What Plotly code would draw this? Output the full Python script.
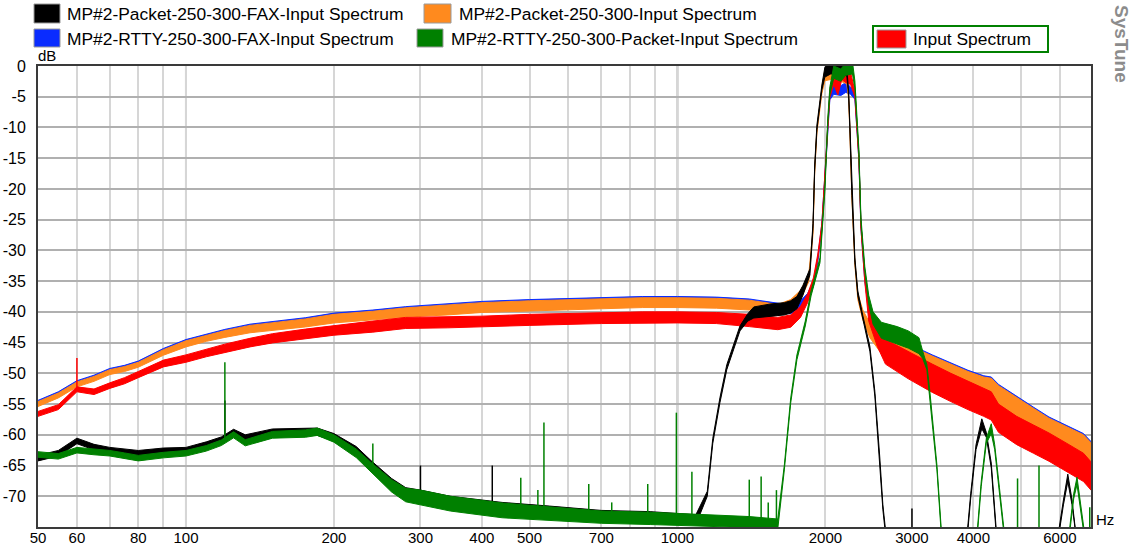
import plotly.graph_objects as go

# ---------------- data ----------------
orange_hz = [50, 55, 60, 65, 70, 75, 80, 90, 100, 110,
             120, 135, 150, 175, 200, 240, 280, 340, 400, 500,
             700, 850, 1000, 1200, 1400, 1600, 1700, 1780, 1850, 1887,
             1902, 1922, 1967, 1995, 2050, 2150, 2211, 2230, 2243, 2264,
             2296, 2328, 2383, 2463, 2600, 2800, 2950, 3300, 3600, 3900,
             4200, 4350, 4500, 4900, 5300, 5700, 6200, 6700, 6940]
orange_db = [-55, -53.6, -51.8, -50.9, -49.8, -49.3, -48.6, -46.6, -45.2, -44.3,
             -43.6, -42.8, -42.4, -41.8, -41.1, -40.6, -40.1, -39.7, -39.3, -39.0,
             -38.7, -38.5, -38.5, -38.6, -38.9, -39.6, -38.8, -37.2, -34.5, -27,
             -17, -10.5, -4, -1.5, -1.2, -1.5, -2, -5, -10.5, -21,
             -32, -37.5, -40.5, -43, -45.2, -46.5, -47.3, -49.2, -50.5, -51.7,
             -52.6, -52.8, -54, -56, -57.7, -59.3, -60.7, -62, -63.3]
orange_spread = [0.4, 0.4, 0.4, 0.4, 0.4, 0.4, 0.4, 0.45, 0.5, 0.5,
                 0.55, 0.6, 0.6, 0.65, 0.7, 0.7, 0.75, 0.8, 0.8, 0.8,
                 0.8, 0.8, 0.8, 0.8, 0.8, 0.8, 0.8, 0.7, 0.6, 0.4,
                 0.4, 0.4, 0.5, 0.9, 1.0, 1.0, 0.9, 0.5, 0.4, 0.4,
                 0.4, 0.5, 0.8, 1.2, 1.6, 1.8, 1.9, 2.0, 2.0, 2.0,
                 2.0, 2.0, 2.0, 2.0, 2.0, 2.0, 2.0, 2.0, 2.0]

blue_hz = [50, 55, 60, 65, 70, 75, 80, 90, 100, 110,
           120, 135, 150, 175, 200, 240, 280, 340, 400, 500,
           700, 850, 1000, 1200, 1400, 1600, 1700, 1780, 1840, 1890,
           1930, 1967, 1995, 2022, 2042, 2080, 2150, 2200, 2250, 2296,
           2340, 2362, 2405, 2460, 2600, 2800, 2950, 3300, 3600, 3900,
           4200, 4350, 4500, 4900, 5300, 5700, 6200, 6700, 6940]
blue_db = [-54.8, -53.4, -51.6, -50.7, -49.6, -49.1, -48.4, -46.4, -45.0, -44.1,
           -43.4, -42.6, -42.2, -41.6, -40.9, -40.4, -39.9, -39.5, -39.1, -38.8,
           -38.5, -38.3, -38.3, -38.4, -38.7, -39.4, -39.6, -38.8, -37.5, -35.5,
           -31.5, -26, -18, -10, -5, -3.8, -4, -3.5, -4, -5,
           -15, -26, -34.5, -40, -44.9, -46.3, -47.1, -49.0, -50.3, -51.5,
           -52.4, -52.6, -53.8, -55.8, -57.5, -59.1, -60.5, -61.8, -63.1]
blue_spread = [0.4, 0.4, 0.4, 0.4, 0.4, 0.4, 0.4, 0.45, 0.5, 0.5,
               0.55, 0.6, 0.6, 0.65, 0.7, 0.7, 0.75, 0.8, 0.8, 0.8,
               0.8, 0.8, 0.8, 0.8, 0.8, 0.8, 0.7, 0.6, 0.5, 0.4,
               0.4, 0.4, 0.4, 0.4, 0.5, 0.8, 0.8, 0.8, 0.6, 0.4,
               0.4, 0.4, 0.5, 0.9, 1.5, 1.8, 1.9, 2.0, 2.0, 2.0,
               2.0, 2.0, 2.0, 2.0, 2.0, 2.0, 2.0, 2.0, 2.0]

red_hz = [50, 55, 60, 65, 70, 75, 80, 90, 100, 110,
          120, 135, 150, 175, 200, 240, 280, 340, 400, 500,
          700, 850, 1000, 1200, 1400, 1600, 1700, 1780, 1840, 1890,
          1930, 1967, 1995, 2022, 2042, 2080, 2120, 2160, 2200, 2250,
          2296, 2340, 2362, 2405, 2450, 2550, 2650, 2950, 3300, 3600,
          3900, 4100, 4200, 4350, 4500, 4900, 5300, 5700, 6200, 6700,
          6940]
red_db = [-56.6, -55.5, -52.6, -53, -52, -51.2, -50.2, -48.4, -47.6, -46.7,
          -45.9, -45, -44.3, -43.6, -43, -42.4, -41.8, -41.7, -41.6, -41.3,
          -41, -40.9, -40.9, -41, -41.4, -41.9, -41.5, -40, -37.8, -35,
          -31, -26, -18, -10, -4.5, -2, -3.5, -1, -1.5, -2,
          -4.5, -15, -26, -34.5, -40.5, -44, -46.5, -48.7, -50.8, -52.3,
          -53.6, -54.3, -54.7, -55.3, -57.3, -59.3, -60.7, -62, -63.7, -65.3,
          -66.7]
red_spread = [0.4, 0.4, 0.4, 0.45, 0.45, 0.5, 0.5, 0.55, 0.6, 0.6,
              0.65, 0.7, 0.75, 0.8, 0.8, 0.9, 0.9, 0.9, 0.9, 0.9,
              0.9, 0.9, 0.9, 0.9, 1.0, 1.0, 1.0, 0.9, 0.7, 0.5,
              0.4, 0.4, 0.4, 0.4, 0.6, 1.0, 1.2, 1.2, 1.2, 1.0,
              0.5, 0.4, 0.4, 0.6, 1.0, 1.6, 2.0, 2.2, 2.3, 2.3,
              2.3, 2.3, 2.3, 2.3, 2.3, 2.3, 2.3, 2.3, 2.3, 2.3,
              2.3]
red_spike_hz = [60]
red_spike_top = [-47.5]
red_spike_base = [-52.6]

green_hz = [50, 55, 60, 65, 70, 75, 80, 90, 100, 110,
            118, 125, 132, 150, 175, 185, 200, 222, 238, 262,
            280, 300, 345, 440, 550, 700, 880, 1100, 1400, 1600,
            1650, 1700, 1750, 1820, 1870, 1950, 1995, 2022, 2042, 2080,
            2150, 2200, 2270, 2296, 2340, 2362, 2405, 2450, 2500, 2600,
            2800, 2950, 3100, 3155, 3217, 3262, 3309, 3372, 3450, 4065,
            4150, 4250, 4350, 4420, 4520, 4634, 6250, 6400, 6500, 6600,
            6750]
green_db = [-63.2, -63.5, -62.5, -62.8, -63, -63.4, -63.8, -63.3, -63, -62.2,
            -61.3, -60, -61.3, -60, -59.8, -59.5, -60.6, -63, -65.3, -68.3,
            -69.8, -70.2, -71.2, -72.3, -72.8, -73.4, -73.6, -73.9, -74.2, -74.5,
            -65.3, -54.4, -47.4, -41.9, -37, -31.6, -20, -9, -4, -1,
            -1.5, -0.5, -0.3, -3, -14, -25, -33, -38, -41, -43,
            -43.8, -44.5, -45.5, -47, -49, -53.3, -58.8, -65.3, -77, -77,
            -68, -61, -59, -62, -69, -77, -77, -70, -67.5, -71,
            -77]
green_spread = [0.45, 0.45, 0.45, 0.45, 0.45, 0.45, 0.45, 0.45, 0.45, 0.45,
                0.45, 0.5, 0.5, 0.55, 0.6, 0.6, 0.6, 0.7, 0.8, 1.0,
                1.1, 1.2, 1.2, 1.2, 1.1, 1.0, 1.0, 1.0, 0.9, 0.8,
                0.4, 0.4, 0.4, 0.4, 0.4, 0.4, 0.4, 0.4, 0.6, 1.0,
                1.0, 1.0, 1.0, 0.6, 0.4, 0.4, 0.4, 0.7, 1.0, 1.3,
                1.4, 1.4, 1.3, 0.6, 0.4, 0.4, 0.4, 0.4, 0.4, 0.4,
                0.4, 0.4, 0.8, 0.4, 0.4, 0.4, 0.4, 0.4, 0.6, 0.4,
                0.4]
green_spike_hz = [120, 240, 300, 480, 520, 535, 660, 735, 870, 995,
                  1070, 1400, 1480, 1530, 1590, 4920, 5440, 6900]
green_spike_top = [-48.2, -61.4, -69.2, -67, -69, -58, -68, -71, -68, -56.4,
                   -66, -67.3, -66.8, -71, -69, -67.1, -65, -71.8]
green_spike_base = [-61, -65, -70.5, -72.3, -72.6, -72.6, -73.2, -73.4, -73.6, -73.8,
                    -74, -74.3, -74.3, -74.4, -74.5, -75, -75, -75]

black_hz = [50, 55, 60, 65, 70, 75, 80, 90, 100, 110,
            118, 125, 132, 150, 175, 185, 200, 222, 238, 262,
            280, 300, 345, 440, 550, 700, 880, 1090, 1150, 1180,
            1220, 1260, 1300, 1340, 1390, 1430, 1550, 1650, 1700, 1750,
            1800, 1860, 1887, 1902, 1922, 1967, 1995, 2050, 2150, 2211,
            2230, 2243, 2264, 2296, 2328, 2383, 2463, 2521, 2580, 2618,
            2660, 3800, 3880, 3950, 4050, 4161, 4250, 4350, 4464, 5900,
            5940, 6100, 6226, 6350, 6494]
black_db = [-63.8, -63, -61, -62, -62.5, -62.8, -63, -62.6, -62.5, -61.6,
            -60.8, -59.6, -60.5, -59.6, -59.5, -59.5, -60.4, -62.6, -65, -68,
            -69.6, -70, -71, -72, -72.6, -73.2, -73.4, -73.8, -69.6, -61,
            -54.4, -49, -45.8, -42.7, -40.9, -40.1, -39.7, -39.5, -39.2, -38.5,
            -36.5, -33.5, -26, -16.5, -10, -3.5, -1, -0.3, -0.3, -1,
            -4.5, -10, -20.7, -31.6, -37, -41, -46, -53.3, -64, -71.8,
            -77, -77, -77, -70, -62, -58.2, -60, -65, -77, -77,
            -77, -71, -67, -71, -77]
black_spread = [0.45, 0.45, 0.45, 0.45, 0.45, 0.45, 0.45, 0.45, 0.45, 0.45,
                0.45, 0.5, 0.5, 0.55, 0.6, 0.6, 0.6, 0.7, 0.8, 0.9,
                1.0, 1.0, 1.0, 1.0, 1.0, 0.9, 0.9, 0.8, 0.4, 0.4,
                0.4, 0.4, 0.4, 0.4, 0.6, 0.9, 1.0, 1.0, 1.0, 1.0,
                0.8, 0.5, 0.4, 0.4, 0.4, 0.4, 0.8, 1.0, 1.0, 0.6,
                0.4, 0.4, 0.4, 0.4, 0.4, 0.4, 0.4, 0.4, 0.4, 0.4,
                0.4, 0.4, 0.4, 0.4, 0.4, 0.8, 0.4, 0.4, 0.4, 0.4,
                0.4, 0.4, 0.6, 0.4, 0.4]
black_spike_hz = [120, 300, 420, 3000]
black_spike_top = [-54.4, -65, -65, -72]
black_spike_base = [-60, -69.6, -71.8, -75]

series_names = ["MP#2-Packet-250-300-FAX-Input Spectrum",
                "MP#2-Packet-250-300-Input Spectrum",
                "MP#2-RTTY-250-300-FAX-Input Spectrum",
                "MP#2-RTTY-250-300-Packet-Input Spectrum",
                "Input Spectrum"]

x_grid = [60, 70, 80, 90, 100, 200, 300, 400, 500, 600, 700, 800, 900,
          1000, 2000, 3000, 4000, 5000, 6000]
x_labels = [50, 60, 80, 100, 200, 300, 400, 500, 700, 1000, 2000, 3000, 4000, 6000]
y_ticks = [0, -5, -10, -15, -20, -25, -30, -35, -40, -45, -50, -55, -60, -65, -70]

# ---------------- styles / layout ----------------
C_BLACK = "#000000"
C_ORANGE = "#ff8a1e"
C_BLUE = "#0a2cff"
C_GREEN = "#008000"
C_RED = "#ff0000"
FONT = "Liberation Sans, Arial, sans-serif"

W, H = 1133, 552
L, R, T, B = 38, 1091, 66, 527   # plot area in page pixels


def px(x):
    return (x - L) / (R - L)


def py(y):
    return (B - y) / (B - T)


def band(hz, db, spread, color, width=1.0):
    hi = [d + s for d, s in zip(db, spread)]
    lo = [d - s for d, s in zip(db, spread)]
    return go.Scatter(x=list(hz) + list(hz)[::-1], y=hi + lo[::-1],
                      mode="lines", fill="toself", fillcolor=color,
                      line=dict(color=color, width=width),
                      hoverinfo="skip", showlegend=False)


def spikes(hz, top, base, color, width=1.5):
    xs, ys = [], []
    for f, t, b in zip(hz, top, base):
        xs += [f, f, None]
        ys += [b, t, None]
    return go.Scatter(x=xs, y=ys, mode="lines", line=dict(color=color, width=width),
                      hoverinfo="skip", showlegend=False)


fig = go.Figure()
fig.add_trace(band(blue_hz, blue_db, blue_spread, C_BLUE))
fig.add_trace(band(orange_hz, orange_db, orange_spread, C_ORANGE))
fig.add_trace(band(red_hz, red_db, red_spread, C_RED))
fig.add_trace(spikes(red_spike_hz, red_spike_top, red_spike_base, C_RED))
fig.add_trace(band(black_hz, black_db, black_spread, C_BLACK))
fig.add_trace(spikes(black_spike_hz, black_spike_top, black_spike_base, C_BLACK))
fig.add_trace(band(green_hz, green_db, green_spread, C_GREEN))
fig.add_trace(spikes(green_spike_hz, green_spike_top, green_spike_base, C_GREEN))

tickvals = [50] + x_grid
ticktext = [str(v) if v in x_labels else "" for v in tickvals]

fig.update_xaxes(type="log", range=[1.69897, 3.8414],
                 tickvals=tickvals, ticktext=ticktext,
                 showgrid=True, gridcolor="#d6d6d6", gridwidth=2,
                 showline=True, mirror=True, linecolor="#3a3a3a", linewidth=2,
                 ticks="", ticklen=0, ticklabelstandoff=-4, automargin=False,
                 tickfont=dict(family=FONT, size=15, color="#000000"),
                 zeroline=False)
fig.update_yaxes(range=[-75, 0], tickvals=y_ticks, ticktext=[str(v) for v in y_ticks],
                 showgrid=True, gridcolor="#b0b0b0", gridwidth=2,
                 showline=True, mirror=True, linecolor="#3a3a3a", linewidth=2,
                 ticks="", ticklen=0, ticklabelstandoff=7, automargin=False,
                 tickfont=dict(family=FONT, size=16, color="#000000"),
                 zeroline=False)

shapes = []
for dec in [100, 1000]:
    shapes.append(dict(type="line", xref="x", yref="paper", x0=dec, x1=dec, y0=0, y1=1,
                       line=dict(color="#b0b0b0", width=2), layer="below"))

annotations = []
legend_items = [
    # (series index, color, swatch x0, x1, y0, y1, text x, text y) in page pixels
    (0, C_BLACK, 34, 60, 4, 23, 65, 14),
    (1, C_ORANGE, 424, 451, 4, 23, 457, 14),
    (2, C_BLUE, 34, 60, 29, 47, 65, 39),
    (3, C_GREEN, 417, 443, 29, 47, 449, 39),
    (4, C_RED, 877, 906, 30, 48, 911, 39),
]
shapes.append(dict(type="rect", xref="paper", yref="paper",
                   x0=px(873), x1=px(1048), y0=py(52), y1=py(26),
                   line=dict(color="#008000", width=2), fillcolor="rgba(0,0,0,0)"))
for idx, col, x0, x1, y0, y1, tx, ty in legend_items:
    shapes.append(dict(type="rect", xref="paper", yref="paper",
                       x0=px(x0), x1=px(x1), y0=py(y1), y1=py(y0),
                       line=dict(color="#9a9a9a", width=1), fillcolor=col))
    annotations.append(dict(xref="paper", yref="paper", x=px(tx), y=py(ty),
                            xanchor="left", yanchor="middle", showarrow=False,
                            text=series_names[idx],
                            font=dict(family=FONT, size=17.4, color="#000000")))

annotations.append(dict(xref="paper", yref="paper", x=px(36), y=py(56),
                        xanchor="left", yanchor="middle", showarrow=False, text="dB",
                        font=dict(family=FONT, size=15, color="#000000")))
annotations.append(dict(xref="paper", yref="paper", x=px(1094), y=py(519),
                        xanchor="left", yanchor="middle", showarrow=False, text="Hz",
                        font=dict(family=FONT, size=15, color="#000000")))
annotations.append(dict(xref="paper", yref="paper", x=px(1121), y=py(44),
                        xanchor="center", yanchor="middle", showarrow=False,
                        text="<b>SysTune</b>", textangle=90,
                        font=dict(family=FONT, size=19, color="#8c8c8c")))

fig.update_layout(width=W, height=H,
                  margin=dict(l=L, r=W - R, t=T, b=H - B, pad=0),
                  paper_bgcolor="white", plot_bgcolor="white",
                  showlegend=False, hovermode=False,
                  shapes=shapes, annotations=annotations)

# remove the default 8px page margin so the figure sits at the window's corner
fig.write_html("out.html",
               config={"displayModeBar": False},
               post_script="document.body.style.margin='0';document.body.style.overflow='hidden';")
